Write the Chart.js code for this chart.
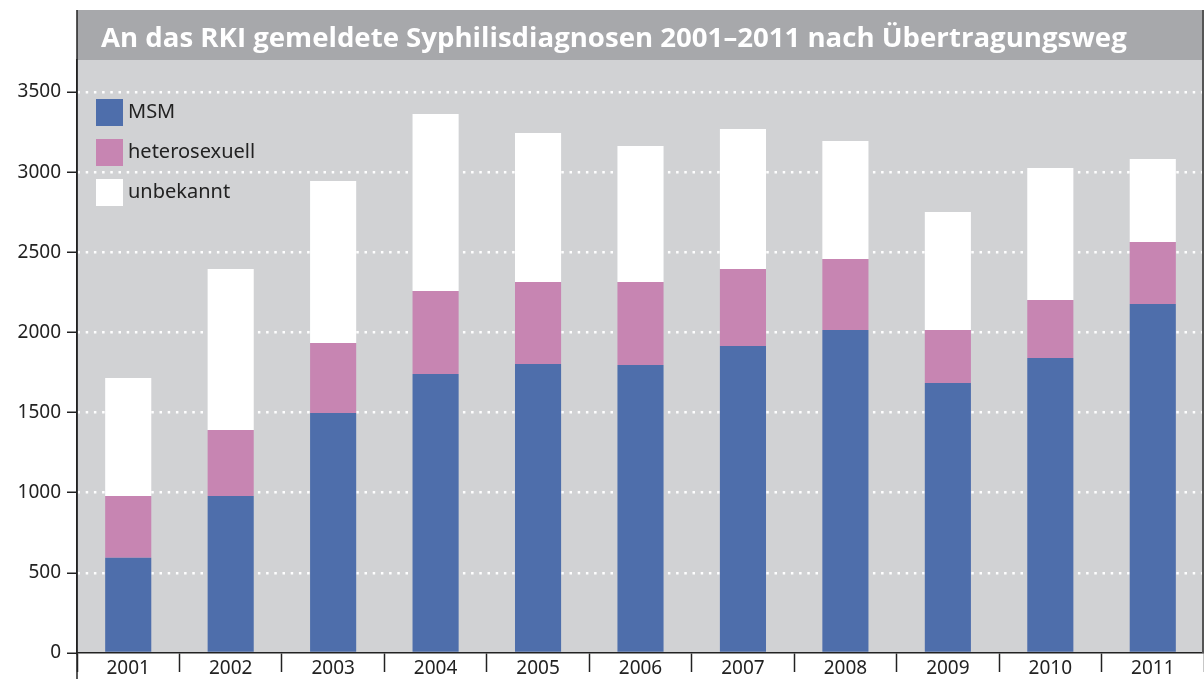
<!DOCTYPE html>
<html>
<head>
<meta charset="utf-8">
<script src="https://cdn.jsdelivr.net/npm/chart.js@4"></script>
<style>
  html, body { margin: 0; padding: 0; background: #fff; }
  #wrap { width: 1204px; height: 679px; }
</style>
</head>
<body>
<div id="wrap"><canvas id="syphChart"></canvas></div>
<script>
// Werte (Fälle)
const years = ["2001", "2002", "2003", "2004", "2005", "2006", "2007", "2008", "2009", "2010", "2011"];
const msm = [595, 980, 1497, 1741, 1803, 1797, 1915, 2015, 1685, 1840, 2177];
const hetero = [385, 411, 437, 518, 512, 518, 481, 443, 330, 362, 387];
const unbekannt = [736, 1005, 1011, 1104, 929, 848, 873, 736, 736, 824, 518];
const yTicks = [0, 500, 1000, 1500, 2000, 2500, 3000, 3500];

const titleText = "An das RKI gemeldete Syphilisdiagnosen 2001–2011 nach Übertragungsweg";

// Hintergrund, Titelband, Legende
const frame = {
    id: "frame",
    beforeDraw(chart) {
        const { ctx, chartArea } = chart;
        ctx.save();
        ctx.fillStyle = "#d1d2d4";
        ctx.fillRect(chartArea.left, chartArea.top, chartArea.right - chartArea.left, chartArea.bottom - chartArea.top);
        ctx.fillStyle = "#a7a8ab";
        ctx.fillRect(chartArea.left, 10, chartArea.right - chartArea.left, chartArea.top - 10);
        ctx.fillStyle = "#ffffff";
        ctx.font = "bold 27px 'Open Sans', sans-serif";
        ctx.textBaseline = "alphabetic";
        let w = ctx.measureText(titleText).width;
        let size = Math.min(29, 27 * 1026 / w);
        ctx.font = "bold " + size + "px 'Open Sans', sans-serif";
        ctx.fillText(titleText, chartArea.left + 24, 47);
        ctx.restore();
    },
    afterDraw(chart) {
        const { ctx, chartArea } = chart;
        ctx.save();
        // Achsenlinie links nach oben und unten verlängert, Rand rechts
        ctx.strokeStyle = "#222";
        ctx.lineWidth = 1.5;
        ctx.beginPath();
        ctx.moveTo(chartArea.left, 10);
        ctx.lineTo(chartArea.left, 679);
        ctx.stroke();
        ctx.strokeStyle = "#555";
        ctx.lineWidth = 2;
        ctx.beginPath();
        ctx.moveTo(1203, 10);
        ctx.lineTo(1203, chartArea.bottom);
        ctx.stroke();
        // Legende
        ctx.font = "20px 'Noto Sans', sans-serif";
        ctx.textBaseline = "middle";
        chart.data.datasets.forEach((ds, i) => {
            const y = 99 + i * 40;
            ctx.fillStyle = ds.backgroundColor;
            ctx.fillRect(96, y, 27, 27);
            ctx.fillStyle = "#222";
            ctx.fillText(ds.label, 128, y + 13);
        });
        ctx.restore();
    }
};

const ctx = document.getElementById("syphChart").getContext("2d");
new Chart(ctx, {
    type: "bar",
    data: {
        labels: years,
        datasets: [
            { label: "MSM", data: msm, backgroundColor: "#4e6eab" },
            { label: "heterosexuell", data: hetero, backgroundColor: "#c785b2" },
            { label: "unbekannt", data: unbekannt, backgroundColor: "#ffffff" }
        ]
    },
    options: {
        responsive: true,
        maintainAspectRatio: false,
        animation: false,
        layout: { padding: { top: 60, right: 0, bottom: 0, left: 0 } },
        datasets: { bar: { categoryPercentage: 1, barPercentage: 0.45 } },
        plugins: {
            legend: { display: false },
            tooltip: { enabled: false }
        },
        scales: {
            x: {
                stacked: true,
                offset: true,
                afterFit(scale) { scale.height = 26; },
                grid: {
                    offset: true,
                    drawOnChartArea: false,
                    drawTicks: true,
                    tickLength: 19,
                    tickColor: "#222",
                    tickWidth: 1.5
                },
                border: { display: true, color: "#222", width: 1.5 },
                ticks: {
                    color: "#222",
                    padding: -15,
                    font: { family: "'Noto Sans', sans-serif", size: 19 }
                }
            },
            y: {
                stacked: true,
                min: 0,
                max: 3700,
                afterFit(scale) { scale.width = 77; },
                afterBuildTicks(scale) {
                    scale.ticks = yTicks.map(v => ({ value: v }));
                },
                grid: {
                    color: ctx => ctx.tick && ctx.tick.value === 0 ? "rgba(0,0,0,0)" : "#ffffff",
                    lineWidth: 2.5,
                    tickLength: 10,
                    tickColor: "#222",
                    tickWidth: 1.5,
                    tickBorderDash: []
                },
                border: { display: true, color: "#222", width: 1.5, dash: [2.5, 5.7] },
                ticks: {
                    color: "#222",
                    padding: 6,
                    callback: v => String(v),
                    font: { family: "'Noto Sans', sans-serif", size: 19 }
                }
            }
        }
    },
    plugins: [frame]
});
</script>
</body>
</html>
